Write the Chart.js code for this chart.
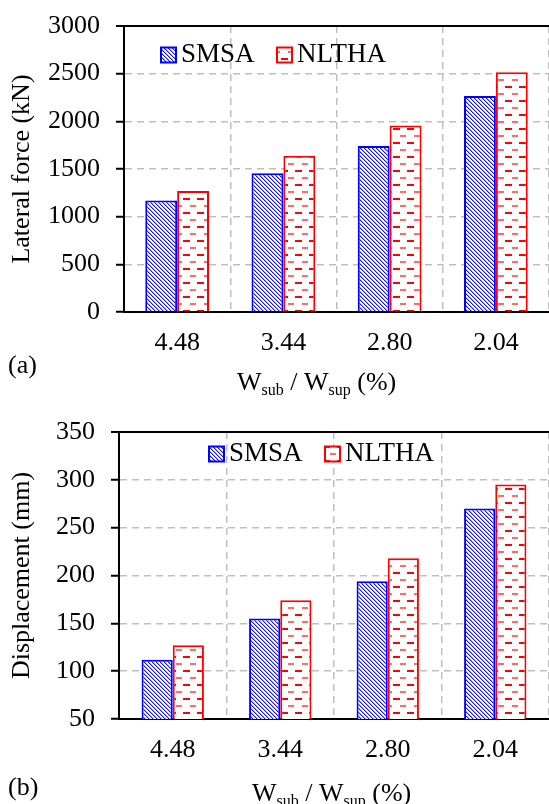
<!DOCTYPE html>
<html>
<head>
<meta charset="utf-8">
<script src="https://cdn.jsdelivr.net/npm/chart.js@4.4.0/dist/chart.umd.min.js"></script>
<style>
    html, body { margin: 0; padding: 0; background: #fff; }
    canvas { display: block; }
</style>
</head>
<body>
<canvas id="forceChart" width="549" height="402"></canvas>
<canvas id="dispChart" width="549" height="402"></canvas>
<script>
// Data
const categories = ['4.48', '3.44', '2.80', '2.04'];
const seriesNames = ['SMSA', 'NLTHA'];

const forceSMSA = [1170, 1455, 1740, 2265];
const forceNLTHA = [1270, 1640, 1955, 2515];
const forceTicks = [0, 500, 1000, 1500, 2000, 2500, 3000];

const dispSMSA = [112, 155, 194, 270];
const dispNLTHA = [127, 174, 218, 295];
const dispTicks = [50, 100, 150, 200, 250, 300, 350];

const FONT = '"Liberation Serif", "Times New Roman", serif';
Chart.defaults.font.family = FONT;
Chart.defaults.font.size = 26;
Chart.defaults.color = '#000';

// Blue downward diagonal hatch
function makeHatch(ctx) {
    const c = document.createElement('canvas');
    c.width = 4; c.height = 4;
    const g = c.getContext('2d');
    g.fillStyle = '#fff';
    g.fillRect(0, 0, 4, 4);
    for (let y = 0; y < 4; y++) {
        g.fillStyle = '#1010ff';
        g.fillRect(y % 4, y, 1, 1);
        g.fillStyle = '#a8a8ff';
        g.fillRect((y + 1) % 4, y, 1, 1);
    }
    return ctx.createPattern(c, 'repeat');
}

// Red dashed horizontal pattern
function makeDashes(ctx) {
    const c = document.createElement('canvas');
    c.width = 14; c.height = 14;
    const g = c.getContext('2d');
    g.fillStyle = '#fff';
    g.fillRect(0, 0, 14, 14);
    g.fillStyle = '#ff0000';
    g.fillRect(1, 2, 7, 2);
    g.fillStyle = '#ff6a6a';
    g.fillRect(8, 9, 7, 2);
    return ctx.createPattern(c, 'repeat');
}

// Legend inside plot, x-axis title with subscripts, panel letter
const annotatePlugin = {
    id: 'annotate',
    afterDraw(chart, args, opts) {
        const { ctx, chartArea } = chart;
        ctx.save();
        ctx.textAlign = 'left';
        ctx.textBaseline = 'middle';
        chart.data.datasets.forEach((ds, i) => {
            const x = chartArea.left + opts.legendX[i];
            const y = chartArea.top + opts.legendY;
            ctx.fillStyle = ds.backgroundColor;
            ctx.fillRect(x, y - 7.5, 15, 15);
            ctx.lineWidth = 2;
            ctx.strokeStyle = ds.borderColor;
            ctx.strokeRect(x, y - 7.5, 15, 15);
            ctx.fillStyle = '#000';
            ctx.font = '27px ' + FONT;
            ctx.fillText(ds.label, x + 20, y);
        });

        ctx.textBaseline = 'alphabetic';
        const parts = [
            { text: 'W' }, { text: 'sub', sub: true },
            { text: ' / W' }, { text: 'sup', sub: true },
            { text: ' (%)' }
        ];
        let x = opts.titleX;
        parts.forEach(p => {
            ctx.font = (p.sub ? '16px ' : '26px ') + FONT;
            ctx.fillText(p.text, x, opts.titleY + (p.sub ? 5 : 0));
            x += ctx.measureText(p.text).width;
        });

        ctx.font = '26px ' + FONT;
        ctx.fillText(opts.panel, 8, opts.panelY);
        ctx.restore();
    }
};

function renderBarChart(id, smsa, nltha, ticks, yTitle, layout) {
    const canvas = document.getElementById(id);
    const ctx = canvas.getContext('2d');
    const yMin = ticks[0];
    const yMax = ticks[ticks.length - 1];
    const isFrame = c => c.tick && (c.tick.value === yMax || c.tick.value === yMin);

    return new Chart(ctx, {
        type: 'bar',
        data: {
            labels: categories,
            datasets: [{
                label: seriesNames[0],
                data: smsa,
                backgroundColor: makeHatch(ctx),
                borderColor: '#0000ff',
                borderWidth: 2
            }, {
                label: seriesNames[1],
                data: nltha,
                backgroundColor: makeDashes(ctx),
                borderColor: '#ff0000',
                borderWidth: 2
            }]
        },
        options: {
            responsive: false,
            animation: false,
            devicePixelRatio: 1,
            categoryPercentage: layout.catPct,
            barPercentage: 1,
            layout: {
                padding: { top: layout.top, right: 0, bottom: 0, left: 0 }
            },
            plugins: {
                legend: { display: false },
                tooltip: { enabled: false },
                annotate: layout.annotate
            },
            scales: {
                x: {
                    afterFit: s => {
                        s.height = layout.xHeight;
                        s.paddingLeft = 0;
                        s.paddingRight = 0;
                    },
                    ticks: {
                        color: '#000',
                        padding: 16,
                        font: { size: 26 }
                    },
                    grid: {
                        color: c => c.index === 0 ? 'rgba(0,0,0,0)' : '#bfbfbf',
                        lineWidth: 1.5,
                        drawTicks: false
                    },
                    border: {
                        color: '#000',
                        width: 2,
                        dash: [7, 5]
                    }
                },
                y: {
                    min: yMin,
                    max: yMax,
                    afterBuildTicks: s => { s.ticks = ticks.map(v => ({ value: v })); },
                    afterFit: s => {
                        s.width = layout.yWidth;
                        // tick padding would otherwise push the plot top down
                        s.paddingTop = 0;
                        s.paddingBottom = 0;
                    },
                    ticks: {
                        color: '#000',
                        padding: 16,
                        font: { size: 26 },
                        callback: v => String(v)
                    },
                    grid: {
                        color: c => isFrame(c) ? '#000' : '#bfbfbf',
                        lineWidth: c => (c.tick && c.tick.value === yMax) ? 2 : 1.5,
                        tickColor: '#000',
                        tickLength: 8,
                        tickWidth: 2
                    },
                    border: {
                        color: '#000',
                        width: 2,
                        dash: c => isFrame(c) ? [] : [7, 5]
                    },
                    title: {
                        display: true,
                        text: yTitle,
                        color: '#000',
                        font: { size: 26 },
                        padding: { top: 7, bottom: 0 }
                    }
                }
            }
        },
        plugins: [annotatePlugin]
    });
}

renderBarChart('forceChart', forceSMSA, forceNLTHA, forceTicks, 'Lateral force (kN)', {
    top: 26, yWidth: 124, xHeight: 90, catPct: 0.6,
    annotate: { legendX: [37, 153], legendY: 29, titleX: 237, titleY: 390, panel: '(a)', panelY: 373 }
});

renderBarChart('dispChart', dispSMSA, dispNLTHA, dispTicks, 'Displacement (mm)', {
    top: 30, yWidth: 119, xHeight: 85, catPct: 0.58,
    annotate: { legendX: [90, 206], legendY: 22, titleX: 252, titleY: 399, panel: '(b)', panelY: 393 }
});
</script>
</body>
</html>
